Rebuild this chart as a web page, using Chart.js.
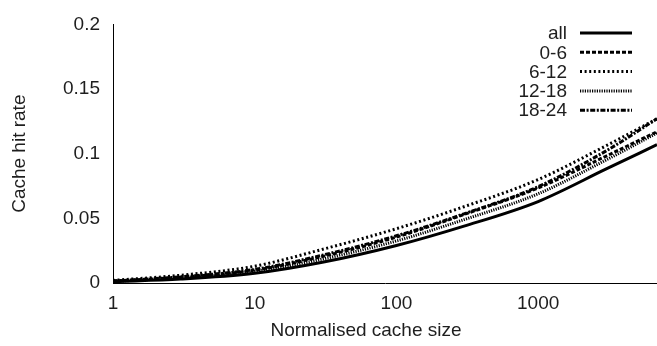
<!DOCTYPE html>
<html>
<head>
<meta charset="utf-8">
<style>
  html, body { margin: 0; padding: 0; background: #ffffff; }
  #wrap { width: 657px; height: 346px; }
</style>
<script src="https://cdn.jsdelivr.net/npm/chart.js@4/dist/chart.umd.min.js"></script>
</head>
<body>
<div id="wrap"><canvas id="chart" width="657" height="346"></canvas></div>
<script>
// Normalised cache size (x) and hit rate per time-of-day slice
const cacheSizes = [1, 3, 10, 30, 100, 300, 1000, 3000, 6900];
const seriesNames = ['all', '0-6', '6-12', '12-18', '18-24'];
const hitAll    = [0.0010, 0.0030, 0.0075, 0.0160, 0.0290, 0.0440, 0.0630, 0.0880, 0.1070];
const hit0to6   = [0.0015, 0.0045, 0.0100, 0.0205, 0.0355, 0.0530, 0.0735, 0.0980, 0.1170];
const hit6to12  = [0.0020, 0.0060, 0.0130, 0.0260, 0.0420, 0.0590, 0.0800, 0.1060, 0.1270];
const hit12to18 = [0.0012, 0.0040, 0.0090, 0.0185, 0.0325, 0.0490, 0.0690, 0.0950, 0.1160];
const hit18to24 = [0.0015, 0.0048, 0.0105, 0.0215, 0.0365, 0.0535, 0.0745, 0.1020, 0.1270];

const xTickValues = [1, 10, 100, 1000];
const yTickValues = [0, 0.05, 0.1, 0.15, 0.2];
const xMax = 6900;

const FONT = '"Liberation Sans", Arial, Helvetica, sans-serif';
const TEXT = '#1e1e1e';

const seriesValues = [hitAll, hit0to6, hit6to12, hit12to18, hit18to24];
const seriesDash = [[], [4, 2], [2, 2.6], [1.2, 1.2], [5, 1.6, 2, 1.6]];

const toPoints = vals => cacheSizes.map((x, i) => ({ x: x, y: vals[i] }));

const datasets = seriesNames.map((name, i) => ({
  label: name,
  data: toPoints(seriesValues[i]),
  borderColor: '#000000',
  backgroundColor: '#000000',
  borderWidth: 3,
  borderDash: seriesDash[i],
  borderCapStyle: 'butt',
  pointRadius: 0,
  fill: false,
  cubicInterpolationMode: 'monotone'
}));

// Right-aligned key: label text, then a line sample drawn with the series' dash pattern
const keyPlugin = {
  id: 'sideKey',
  afterDatasetsDraw(chart) {
    const ctx = chart.ctx;
    ctx.save();
    ctx.font = '19px ' + FONT;
    ctx.fillStyle = TEXT;
    ctx.textAlign = 'right';
    ctx.textBaseline = 'middle';
    chart.data.datasets.forEach((ds, i) => {
      const y = 33 + i * 19.3;
      ctx.fillText(ds.label, 567, y + 1);
      ctx.beginPath();
      ctx.lineWidth = ds.borderWidth;
      ctx.lineCap = 'butt';
      ctx.setLineDash(ds.borderDash || []);
      ctx.strokeStyle = ds.borderColor;
      ctx.moveTo(580, y);
      ctx.lineTo(632, y);
      ctx.stroke();
    });
    ctx.restore();
  }
};

// Horizontal axis caption
const xCaptionPlugin = {
  id: 'xCaption',
  afterDraw(chart) {
    const ctx = chart.ctx;
    ctx.save();
    ctx.font = '19px ' + FONT;
    ctx.fillStyle = TEXT;
    ctx.textAlign = 'center';
    ctx.textBaseline = 'middle';
    ctx.fillText('Normalised cache size', 366, 331);
    ctx.restore();
  }
};

new Chart(document.getElementById('chart'), {
  type: 'line',
  data: { datasets: datasets },
  plugins: [keyPlugin, xCaptionPlugin],
  options: {
    responsive: false,
    animation: false,
    devicePixelRatio: 1,
    layout: { padding: { top: 17, right: 0, bottom: 0, left: 0 } },
    plugins: {
      legend: { display: false },
      tooltip: { enabled: false }
    },
    scales: {
      x: {
        type: 'logarithmic',
        min: 1,
        max: xMax,
        grid: { display: false, drawTicks: false },
        border: { display: true, color: '#000000', width: 1 },
        afterBuildTicks: s => { s.ticks = xTickValues.map(v => ({ value: v })); },
        afterFit: s => { s.height = 63; },
        ticks: {
          autoSkip: false,
          maxRotation: 0,
          padding: 9,
          color: TEXT,
          font: { family: FONT, size: 19 },
          callback: v => String(v)
        },
        title: { display: false }
      },
      y: {
        type: 'linear',
        min: 0,
        max: 0.2,
        grid: { display: false, drawTicks: false },
        border: { display: true, color: '#000000', width: 1 },
        afterBuildTicks: s => { s.ticks = yTickValues.map(v => ({ value: v })); },
        afterFit: s => { s.width = 113; },
        ticks: {
          padding: 13,
          color: TEXT,
          font: { family: FONT, size: 19 },
          callback: v => String(v)
        },
        title: {
          display: true,
          text: 'Cache hit rate',
          color: TEXT,
          font: { family: FONT, size: 19 },
          padding: { top: 8, bottom: 0 }
        }
      }
    }
  }
});
</script>
</body>
</html>
